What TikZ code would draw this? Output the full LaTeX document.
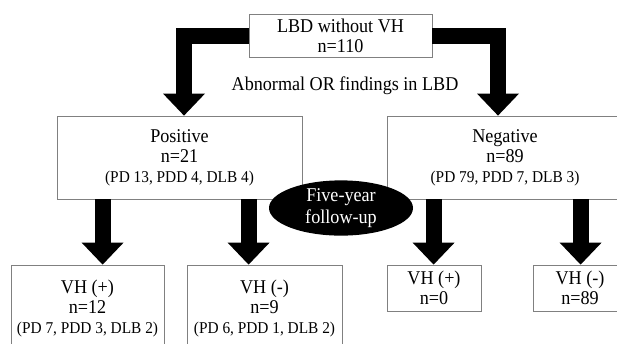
\documentclass[tikz,border=0pt]{standalone}
\usepackage{fontspec}
\setmainfont{Liberation Serif}[FakeStretch=0.93]
\usetikzlibrary{arrows.meta, shapes.geometric}

\tikzset{
  box/.style={draw=gray, line width=0.8pt, align=center, inner sep=0pt,
    font=\fontsize{19.5}{20}\selectfont},
  bigarrow/.style={line width=16pt, line join=miter,
    -{Triangle[width=42pt, length=22pt, line width=0pt]}}
}
\newcommand{\subcount}[1]{{\fontsize{16.5}{19}\selectfont #1}}

\begin{document}
\begin{tikzpicture}[x=1pt, y=-1pt]
  \useasboundingbox (0,0) rectangle (617,343);
  \clip (0,0) rectangle (617,343);

  \node[box, minimum width=183pt, minimum height=43pt] (lbd) at (340.5,35.5) {LBD without VH\\n=110};
  \node[font=\fontsize{19.5}{20}\selectfont] (crit) at (345,86) {Abnormal OR findings in LBD};

  \node[box, minimum width=245pt, minimum height=83pt] (pos) at (179.5,157.5)
    {Positive\\n=21\\\subcount{(PD 13, PDD 4, DLB 4)}};
  \node[box, minimum width=236pt, minimum height=83pt] (neg) at (505,157.5)
    {Negative\\n=89\\\subcount{(PD 79, PDD 7, DLB 3)}};

  \node[box, minimum width=153pt, minimum height=86pt] (pvp) at (87.5,308)
    {VH (+)\\n=12\\\subcount{(PD 7, PDD 3, DLB 2)}};
  \node[box, minimum width=155pt, minimum height=86pt] (pvn) at (264.5,308)
    {VH (-)\\n=9\\\subcount{(PD 6, PDD 1, DLB 2)}};
  \node[box, minimum width=94pt, minimum height=46pt] (nvp) at (434,288) {VH (+)\\n=0};
  \node[box, minimum width=94pt, minimum height=46pt] (nvn) at (580,288) {VH (-)\\n=89};

  \draw[bigarrow] (lbd.west) -| ([xshift=4.5pt]pos.north);
  \draw[bigarrow] (lbd.east) -| ([xshift=-7pt]neg.north);

  \draw[bigarrow] ([xshift=46pt]pos.south west) -- ([xshift=92pt]pvp.north west);
  \draw[bigarrow] ([xshift=192pt]pos.south west) -- ([xshift=62pt]pvn.north west);
  \draw[bigarrow] ([xshift=47pt]neg.south west) -- ([xshift=47pt]nvp.north west);
  \draw[bigarrow] ([xshift=194pt]neg.south west) -- ([xshift=48pt]nvn.north west);

  \node[ellipse, fill=black, text=white, minimum width=144pt, minimum height=50pt,
    inner sep=0pt, align=center, font=\fontsize{19.5}{20}\selectfont] (fu) at (341,208)
    {Five-year\\[2pt]follow-up};
\end{tikzpicture}
\end{document}
